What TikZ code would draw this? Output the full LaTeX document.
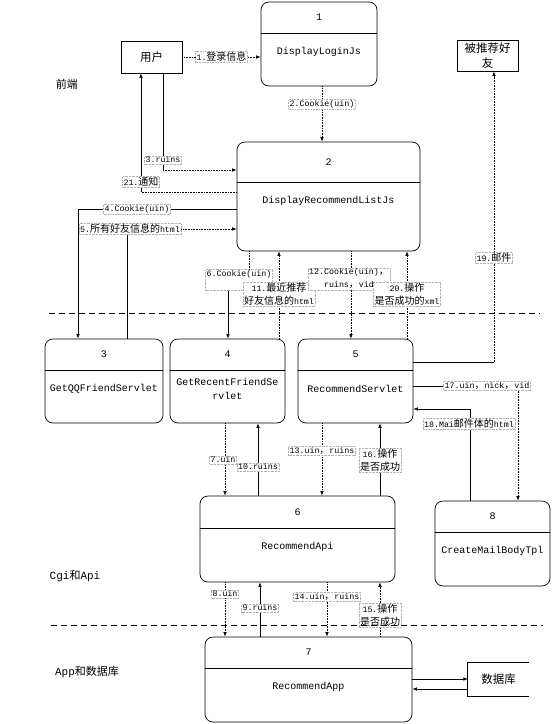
\documentclass[tikz,border=0pt]{standalone}
\usepackage{fontspec}
\setmainfont{Liberation Mono}
\newfontfamily\cjk{Noto Sans CJK SC}
\usetikzlibrary{arrows.meta,fit}
\newcommand\zl[1]{{\cjk\fontsize{10}{13}\selectfont #1}}
\newcommand\zn[1]{{\cjk\fontsize{11.5}{15}\selectfont #1}}
\newcommand\procnode[8]{%
  \node[proc, fit={(#2,#3) (#4,#5)}] (#1) {};
  \draw[line width=0.7pt] (#1.west |- 0,#6) -- (#1.east |- 0,#6);
  \node[ntxt] (#1-num) at ({(#2+#4)/2},{(#3+#6)/2}) {#7};
  \node[ntxt] (#1-txt) at ({(#2+#4)/2},{#6+19}) {#8};
}
\begin{document}
\begin{tikzpicture}[x=1pt,y=-1pt,
  proc/.style={draw, rounded corners=8pt, inner sep=0pt, line width=0.7pt},
  ent/.style={draw, inner sep=0pt, line width=0.7pt, align=center, font=\fontsize{11.5}{15}\selectfont},
  conn/.style={line width=0.6pt},
  dot/.style={line width=0.6pt, densely dotted},
  arr/.style={-{Latex[length=4.5pt,width=3.5pt]}},
  lbl/.style={fill=white, draw=gray!60, densely dotted, inner sep=1pt, align=center, font=\fontsize{8.3}{13}\selectfont},
  ntxt/.style={font=\fontsize{10}{14}\selectfont, align=center, inner sep=0pt},
  side/.style={font=\fontsize{11}{13}\selectfont, inner sep=0pt},
  sep/.style={line width=0.6pt, dash pattern=on 6pt off 4pt}
]
\useasboundingbox[fill=white] (0,0) rectangle (553,724);

% side labels
\node[side] (s1) at (67,84) {\cjk 前端};
\node[side] (s2) at (75,576) {Cgi{\cjk 和}Api};
\node[side] (s3) at (87,672) {App{\cjk 和数据库}};

% entities
\node[ent, minimum width=61pt, minimum height=32pt] (user) at (151.5,57) {\zn{用户}};
\node[ent, minimum width=61pt, minimum height=31pt] (fr) at (487.5,55.5) {\zn{被推荐好}\\\zn{友}};
\node[inner sep=0pt, minimum width=61pt, minimum height=33pt] (db) at (498.5,679.5) {\zn{数据库}};
\draw[line width=0.7pt] (db.north east) -- (db.north west) -- (db.south west) -- (db.south east);

% processes
\procnode{n1}{261}{2}{377}{86}{33}{1}{DisplayLoginJs}
\procnode{n2}{237}{142}{420}{251}{182}{2}{DisplayRecommendListJs}
\procnode{n3}{45}{339}{163}{423}{370}{3}{GetQQFriendServlet}
\procnode{n4}{170}{339}{285}{423}{370}{4}{GetRecentFriendSe\\rvlet}
\procnode{n5}{298}{339}{413}{423}{370}{5}{RecommendServlet}
\procnode{n6}{200}{496}{395}{582}{528}{6}{RecommendApi}
\procnode{n7}{205}{637}{412}{722}{668}{7}{RecommendApp}
\procnode{n8}{435}{501}{550}{586}{532}{8}{CreateMailBodyTpl}

% 1
\draw[dot,arr] (user.east) -- (user.east -| n1.west) node[lbl, midway] (l1) {1.\zl{登录信息}};
% 2
\draw[dot,arr] (n1.south -| 322,0) -- (n2.north -| 322,0) node[lbl, pos=0.32] (l2) {2.Cookie(uin)};
% 3
\coordinate (c3) at (163,170);
\draw[conn] (user.south -| c3) -- (c3);
\draw[dot,arr] (c3) -- (c3 -| n2.west);
\node[lbl] (l3) at (163,160) {3.ruins};
% 21
\coordinate (c21) at (141,192);
\draw[dot] (c21 -| n2.west) -- (c21);
\draw[conn,arr] (c21) -- (user.south -| c21);
\node[lbl] (l21) at (141,182) {21.\zl{通知}};
% 4
\coordinate (c4) at (78,209);
\draw[conn,arr] (c4 -| n2.west) -- (c4) -- (n3.north -| c4);
\node[lbl] (l4) at (137,209) {4.Cookie(uin)};
% 5
\coordinate (c5) at (127,229);
\draw[conn] (n3.north -| c5) -- (c5);
\draw[dot,arr] (c5) -- (c5 -| n2.west);
\node[lbl] (l5) at (130,229) {5.\zl{所有好友信息的}html};
% 6
\node[lbl] (l6) at (239,280) {6.Cookie(uin)\\\mbox{}};
\draw[dot] (n2.south -| 249,0) -- (l6.north -| 249,0);
\draw[conn,arr] (l6.south -| 228,0) -- (n4.north -| 228,0);
% 11
\draw[dot,arr] (n4.north -| 279,0) -- (n2.south -| 279,0);
\node[lbl] (l11) at (279,294) {11.\zl{最近推荐}\\\zl{好友信息的}html};
% 12
\draw[dot,arr] (n2.south -| 351,0) -- (n5.north -| 351,0);
\node[lbl] (l12) at (349,279) {12.Cookie(uin)\zl{，}\\ruins\zl{，}vid};
% 20
\draw[dot,arr] (n5.north -| 407,0) -- (n2.south -| 407,0);
\node[lbl] (l20) at (407,294) {20.\zl{操作}\\\zl{是否成功的}xml};
% 19
\coordinate (c19) at (494,362);
\draw[conn] (c19 -| n5.east) -- (c19);
\draw[dot,arr] (c19) -- (fr.south -| c19);
\node[lbl] (l19) at (494,258) {19.\zl{邮件}};
% 17
\node[lbl] (l17) at (487,386) {17.uin\zl{，}nick\zl{，}vid};
\draw[conn] (n5.east |- l17.west) -- (l17.west);
\draw[dot,arr] (l17.south -| 518,0) -- (n8.north -| 518,0);
% 18
\coordinate (c18) at (470,409);
\draw[conn,arr] (n8.north -| c18) -- (c18) -- (c18 -| n5.east);
\node[lbl] (l18) at (469,424) {18.Mai\zl{邮件体的}html};
% 7
\draw[dot,arr] (n4.south -| 225,0) -- (n6.north -| 225,0);
\node[lbl] (l7) at (223,460) {7.uin};
% 10
\draw[conn,arr] (n6.north -| 258,0) -- (n4.south -| 258,0);
\node[lbl] (l10) at (258,467) {10.ruins};
% 13
\draw[dot,arr] (n5.south -| 322,0) -- (n6.north -| 322,0);
\node[lbl] (l13) at (322,451) {13.uin\zl{，}ruins};
% 16
\draw[conn,arr] (n6.north -| 380,0) -- (n5.south -| 380,0);
\node[lbl] (l16) at (380,460) {16.\zl{操作}\\\zl{是否成功}};
% 8
\draw[dot,arr] (n6.south -| 225,0) -- (n7.north -| 225,0);
\node[lbl] (l8) at (225,594) {8.uin};
% 9
\draw[conn,arr] (n7.north -| 260,0) -- (n6.south -| 260,0);
\node[lbl] (l9) at (260,608) {9.ruins};
% 14
\draw[dot,arr] (n6.south -| 327,0) -- (n7.north -| 327,0);
\node[lbl] (l14) at (327,597) {14.uin\zl{，}ruins};
% 15
\draw[dot,arr] (n7.north -| 380,0) -- (n6.south -| 380,0);
\node[lbl] (l15) at (380,615) {15.\zl{操作}\\\zl{是否成功}};
% database
\draw[conn,arr] (n7.east |- 0,679) -- (db.west |- 0,679);
\draw[conn,arr] (db.west |- 0,689) -- (n7.east |- 0,689);

% separators
\draw[sep] (49,313) -- (540,313);
\draw[sep] (51,625) -- (543,625);
\end{tikzpicture}
\end{document}
